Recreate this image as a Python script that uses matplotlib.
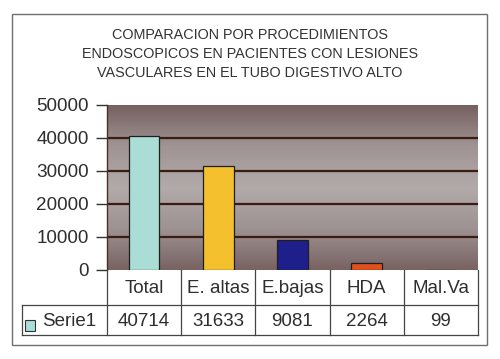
"""Comparacion por procedimientos endoscopicos - bar chart with data table."""

import matplotlib
matplotlib.use("Agg")
import matplotlib.pyplot as plt
import numpy as np
from matplotlib.colors import LinearSegmentedColormap
from matplotlib.lines import Line2D
from matplotlib.patches import Rectangle

categories = ["Total", "E. altas", "E.bajas", "HDA", "Mal.Va"]
values = [40714, 31633, 9081, 2264, 99]
series_name = "Serie1"
yticks = [0, 10000, 20000, 30000, 40000, 50000]
title = ("COMPARACION POR PROCEDIMIENTOS\n"
         "ENDOSCOPICOS EN PACIENTES CON LESIONES\n"
         "VASCULARES EN EL TUBO DIGESTIVO ALTO")

BAR_COLORS = ["#a9ddd6", "#f4c02e", "#1f1f8c", "#e0501e", "#e89080"]
INK = "#2e2e2e"
GRID = "#3a1c12"
FRAME = "#707070"
FONT = "Liberation Sans"

W, H = 500, 359


def fx(px):
    return px / W


def fy(py):
    return 1 - py / H


fig = plt.figure(figsize=(5.0, 3.59), dpi=100, facecolor="white")

# outer chart frame
fig.add_artist(Rectangle((fx(12), fy(345)), fx(487) - fx(12), fy(14) - fy(345),
                         transform=fig.transFigure, fill=False,
                         edgecolor=FRAME, linewidth=1.0))

fig.text(fx(250), fy(54), title, ha="center", va="center", fontsize=10.4,
         family=FONT, color="#333333", linespacing=1.42)

left, right, top, bottom = 107, 478, 105, 270
ax = fig.add_axes([fx(left), fy(bottom), fx(right) - fx(left), fy(top) - fy(bottom)])

n = len(categories)
x = np.arange(n)
ax.set_xlim(-0.5, n - 0.5)
ax.set_ylim(0, yticks[-1])

# brown-grey vertical gradient background
bg = LinearSegmentedColormap.from_list(
    "bg", ["#766060", "#a09494", "#b2aaaa", "#9e9292", "#786262"])
grad = np.linspace(0, 1, 256).reshape(-1, 1)
ax.imshow(grad, cmap=bg, aspect="auto", extent=(-0.5, n - 0.5, 0, yticks[-1]),
          origin="upper", zorder=0)

for t in yticks[1:-1]:
    ax.axhline(t, color=GRID, linewidth=1.6, zorder=1)

ax.bar(x, values, width=0.41, color=BAR_COLORS, edgecolor="#1e1e1e",
       linewidth=0.9, zorder=3)

ax.set_yticks(yticks)
ax.set_yticklabels([str(t) for t in yticks], fontsize=13.6, family=FONT, color=INK)
ax.tick_params(axis="y", length=8, width=1.0, color="#333333", pad=5)
ax.set_xticks([])
for side in ("top", "right", "bottom"):
    ax.spines[side].set_visible(False)
ax.spines["left"].set_color("#4a3020")
ax.spines["left"].set_linewidth(1.0)

# data table below the plot
col_edges = np.linspace(left, right, n + 1)
row_top, row_mid, row_bot = 270, 305, 335
label_left = 22
lw = 0.9


def hline(y, x0, x1):
    fig.add_artist(Line2D([fx(x0), fx(x1)], [fy(y), fy(y)], transform=fig.transFigure,
                          color="#444444", linewidth=lw))


def vline(xp, y0, y1):
    fig.add_artist(Line2D([fx(xp), fx(xp)], [fy(y0), fy(y1)], transform=fig.transFigure,
                          color="#444444", linewidth=lw))


hline(row_mid, label_left, right)
hline(row_bot, label_left, right)
for xe in col_edges:
    vline(xe, row_top, row_bot)
vline(label_left, row_mid, row_bot)

for i, (cat, val) in enumerate(zip(categories, values)):
    cx = (col_edges[i] + col_edges[i + 1]) / 2
    fig.text(fx(cx), fy((row_top + row_mid) / 2 + 1), cat, ha="center", va="center",
             fontsize=13.5, family=FONT, color=INK)
    fig.text(fx(cx), fy((row_mid + row_bot) / 2 + 1), str(val), ha="center", va="center",
             fontsize=13.5, family=FONT, color=INK)

fig.add_artist(Rectangle((fx(25), fy(331)), fx(10), fy(320) - fy(331),
                         transform=fig.transFigure, facecolor=BAR_COLORS[0],
                         edgecolor="#333333", linewidth=0.8))
fig.text(fx(42), fy((row_mid + row_bot) / 2 + 1), series_name, ha="left", va="center",
         fontsize=13.5, family=FONT, color=INK)

fig.savefig("out.png", dpi=100, facecolor="white")
